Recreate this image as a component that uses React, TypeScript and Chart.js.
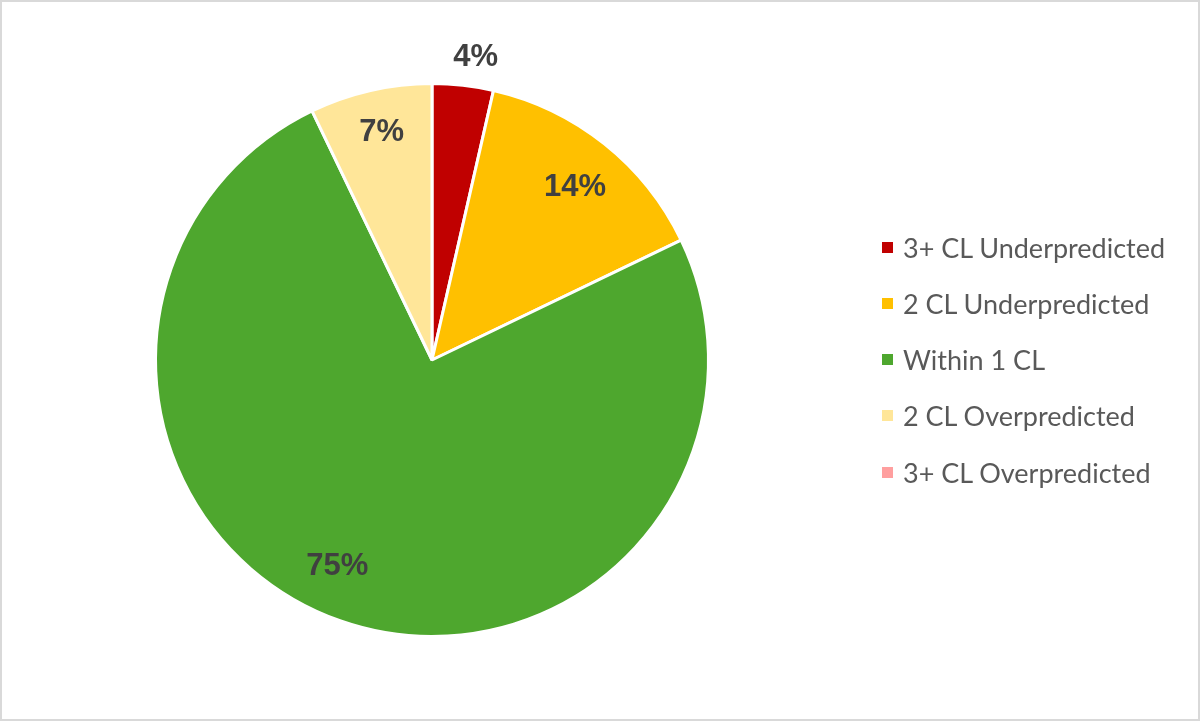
import React, { useEffect, useRef } from "react";
import { Chart, registerables } from "chart.js";

Chart.register(...registerables);

const categories = [
  "3+ CL Underpredicted",
  "2 CL Underpredicted",
  "Within 1 CL",
  "2 CL Overpredicted",
  "3+ CL Overpredicted",
];
const counts = [1, 4, 21, 2, 0];
const colors = ["#C00000", "#FFC000", "#4EA72E", "#FFE699", "#FF9F9F"];

// label placement (style): radial factor and angular nudge (radians)
const labelRadius = [1.115, 0.82, 0.81, 0.855, 0.8];
const labelAngleNudge = [0.03, 0.01, 0.1, 0.01, 0];

const labelPlugin = {
  id: "sliceLabels",
  afterDatasetsDraw(chart: any) {
    const ctx = chart.ctx;
    const meta = chart.getDatasetMeta(0);
    const data = chart.data.datasets[0].data as number[];
    const total = data.reduce((a, b) => a + b, 0);
    ctx.save();
    ctx.font = "bold 31px 'Liberation Sans', Arial, sans-serif";
    ctx.fillStyle = "#404040";
    ctx.textAlign = "center";
    ctx.textBaseline = "middle";
    meta.data.forEach((arc: any, i: number) => {
      const v = data[i];
      if (!v) return;
      const p = arc.getProps(["x", "y", "startAngle", "endAngle", "outerRadius"], true);
      const mid = (p.startAngle + p.endAngle) / 2 + labelAngleNudge[i];
      const r = p.outerRadius * labelRadius[i];
      const x = p.x + Math.cos(mid) * r;
      const y = p.y + Math.sin(mid) * r + 3;
      ctx.fillText(Math.round((v / total) * 100) + "%", x, y);
    });
    ctx.restore();
  },
};

export default function App() {
  const ref = useRef<HTMLCanvasElement | null>(null);
  useEffect(() => {
    document.body.style.margin = "0";
    if (!ref.current) return;
    const chart = new Chart(ref.current, {
      type: "pie",
      data: {
        labels: categories,
        datasets: [
          {
            data: counts,
            backgroundColor: colors,
            borderColor: "#FFFFFF",
            borderWidth: 3,
          },
        ],
      },
      options: {
        responsive: false,
        animation: false,
        layout: { padding: { left: 154, right: 490, top: 82, bottom: 83 } },
        plugins: {
          legend: { display: false },
          tooltip: { enabled: false },
        },
      },
      plugins: [labelPlugin],
    });
    return () => chart.destroy();
  }, []);

  return (
    <div style={{ position: "absolute", left: 0, top: 0, width: 1200, height: 721, background: "#fff" }}>
      <canvas ref={ref} width={1200} height={721} style={{ position: "absolute", left: 0, top: 0 }} />
      <div
        style={{
          position: "absolute",
          left: 882,
          top: 219,
          fontFamily: "Lato, 'Open Sans', sans-serif",
          fontSize: 27,
          color: "#595959",
        }}
      >
        {categories.map((c, i) => (
          <div key={c} style={{ display: "flex", alignItems: "center", height: 56.25, whiteSpace: "nowrap" }}>
            <span style={{ width: 11, height: 11, background: colors[i], marginRight: 10, display: "inline-block", flex: "none" }} />
            <span>{c}</span>
          </div>
        ))}
      </div>
      <div
        style={{
          position: "absolute",
          left: 0,
          top: 0,
          width: 1200,
          height: 721,
          boxSizing: "border-box",
          border: "2px solid #D9D9D9",
          pointerEvents: "none",
        }}
      />
    </div>
  );
}
